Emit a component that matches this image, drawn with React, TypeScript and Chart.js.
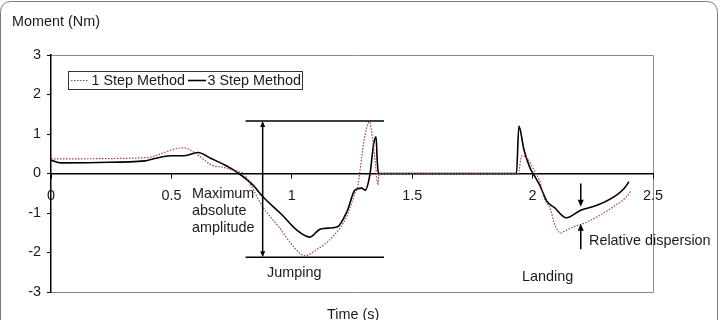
import React, { useEffect, useRef } from "react";
import { Chart, registerables } from "chart.js";

Chart.register(...registerables);

// 3 Step Method (solid black)
const time3 = [0, 0.04, 0.2, 0.39, 0.43, 0.5, 0.55, 0.61, 0.665, 0.72, 0.78, 0.84, 0.88, 0.96, 1.02, 1.075, 1.117, 1.158, 1.19, 1.23, 1.262, 1.29, 1.305, 1.325, 1.34, 1.35, 1.355, 1.36, 1.6, 1.933, 1.943, 1.964, 1.99, 2.01, 2.03, 2.06, 2.09, 2.14, 2.2, 2.27, 2.35, 2.38, 2.4];
const moment3 = [0.34, 0.27, 0.28, 0.32, 0.38, 0.45, 0.45, 0.53, 0.38, 0.22, 0.0, -0.3, -0.59, -1.05, -1.43, -1.61, -1.41, -1.38, -1.35, -0.95, -0.42, -0.37, -0.42, 0.0, 0.75, 0.93, 0.3, 0, 0, 0, 1.2, 0.6, 0.13, -0.08, -0.3, -0.71, -0.86, -1.12, -0.93, -0.8, -0.54, -0.38, -0.21];

// 1 Step Method (dotted red)
const time1 = [0, 0.39, 0.55, 0.61, 0.665, 0.72, 0.775, 0.8, 0.83, 0.88, 0.95, 1.0, 1.054, 1.1, 1.17, 1.228, 1.262, 1.275, 1.29, 1.305, 1.322, 1.335, 1.348, 1.358, 1.362, 1.6, 1.94, 1.955, 1.978, 2.005, 2.033, 2.046, 2.075, 2.09, 2.117, 2.13, 2.17, 2.214, 2.27, 2.35, 2.39, 2.41];
const moment1 = [0.37, 0.4, 0.65, 0.47, 0.22, 0.15, 0.05, 0, -0.3, -0.85, -1.38, -1.8, -2.08, -1.94, -1.6, -1.09, -0.5, -0.29, 0.4, 1.0, 1.31, 0.9, 0.2, -0.29, 0, 0, 0, 0.45, 0.38, 0.1, -0.25, -0.59, -0.92, -1.26, -1.51, -1.47, -1.35, -1.26, -1.09, -0.78, -0.59, -0.42];

const seriesNames = ["1 Step Method", "3 Step Method"];
const xTickValues = [0, 0.5, 1, 1.5, 2, 2.5];
const xTickLabels = ["0", "0.5", "1", "1.5", "2", "2.5"];
const yTickValues = [-3, -2, -1, 0, 1, 2, 3];

const FONT = "'Liberation Sans', Arial, Helvetica, sans-serif";
const RED = "#a3404f";

function arrowHead(ctx: CanvasRenderingContext2D, x: number, y: number, dir: number, w: number, l: number) {
  ctx.beginPath();
  ctx.moveTo(x, y);
  ctx.lineTo(x - w / 2, y - dir * l);
  ctx.lineTo(x + w / 2, y - dir * l);
  ctx.closePath();
  ctx.fill();
}

const annotPlugin = {
  id: "annot",
  beforeDraw(chart: any) {
    const { ctx, chartArea: a } = chart;
    ctx.save();
    ctx.fillStyle = "#fff";
    ctx.fillRect(0, 0, chart.width, chart.height);
    ctx.strokeStyle = "#8a8a8a";
    ctx.lineWidth = 1;
    ctx.beginPath();
    ctx.moveTo(a.left, a.top + 0.5);
    ctx.lineTo(Math.round(a.right) + 0.5, a.top + 0.5);
    ctx.lineTo(Math.round(a.right) + 0.5, Math.round(a.bottom) + 0.5);
    ctx.lineTo(a.left, Math.round(a.bottom) + 0.5);
    ctx.stroke();
    ctx.restore();
  },
  afterDraw(chart: any) {
    const { ctx } = chart;
    const xs = chart.scales.x;
    const ys = chart.scales.y;
    ctx.save();
    // outer frame
    ctx.strokeStyle = "#7a7a7a";
    ctx.lineWidth = 1;
    ctx.beginPath();
    (ctx as any).roundRect(0.5, 1.5, 717, 340, 10);
    ctx.stroke();

    // legend
    ctx.fillStyle = "#fff";
    ctx.fillRect(68.5, 71.5, 234, 18);
    ctx.strokeStyle = "#333";
    ctx.strokeRect(68.5, 71.5, 234, 18);
    ctx.strokeStyle = RED;
    ctx.lineWidth = 1;
    ctx.setLineDash([1.5, 1.5]);
    ctx.beginPath();
    ctx.moveTo(71, 80.5);
    ctx.lineTo(88, 80.5);
    ctx.stroke();
    ctx.setLineDash([]);
    ctx.strokeStyle = "#000";
    ctx.lineWidth = 1.6;
    ctx.beginPath();
    ctx.moveTo(188, 80.5);
    ctx.lineTo(206, 80.5);
    ctx.stroke();
    ctx.fillStyle = "#1a1a1a";
    ctx.font = `14.4px ${FONT}`;
    ctx.textBaseline = "middle";
    ctx.textAlign = "left";
    ctx.fillText(seriesNames[0], 91.5, 81.5);
    ctx.fillText(seriesNames[1], 207.5, 81.5);

    // titles
    ctx.fillText("Moment (Nm)", 12, 22);
    ctx.fillText("Time (s)", 327, 315);

    // texts
    ctx.fillText("Maximum", 192, 194);
    ctx.fillText("absolute", 192, 211);
    ctx.fillText("amplitude", 192, 228);
    ctx.fillText("Jumping", 267, 273);
    ctx.fillText("Landing", 522, 277);
    ctx.fillText("Relative dispersion", 589, 241);

    // amplitude lines
    ctx.strokeStyle = "#000";
    ctx.fillStyle = "#000";
    ctx.lineWidth = 1.5;
    const xa0 = xs.getPixelForValue(0.808);
    const xa1 = xs.getPixelForValue(1.383);
    const yt = ys.getPixelForValue(1.33);
    const yb = ys.getPixelForValue(-2.12);
    ctx.beginPath();
    ctx.moveTo(xa0, yt);
    ctx.lineTo(xa1, yt);
    ctx.moveTo(xa0, yb);
    ctx.lineTo(xa1, yb);
    ctx.stroke();
    const xv = xs.getPixelForValue(0.879);
    ctx.beginPath();
    ctx.moveTo(xv, yt + 5);
    ctx.lineTo(xv, yb - 5);
    ctx.stroke();
    arrowHead(ctx, xv, yt, -1, 5, 6);
    arrowHead(ctx, xv, yb, 1, 5, 6);

    // dispersion arrows
    const xd = xs.getPixelForValue(2.2);
    const d1 = ys.getPixelForValue(-0.25);
    const d2 = ys.getPixelForValue(-0.84);
    const u1 = ys.getPixelForValue(-1.92);
    const u2 = ys.getPixelForValue(-1.27);
    ctx.beginPath();
    ctx.moveTo(xd, d1);
    ctx.lineTo(xd, d2 - 6);
    ctx.moveTo(xd, u1);
    ctx.lineTo(xd, u2 + 6);
    ctx.stroke();
    arrowHead(ctx, xd, d2, 1, 6, 7);
    arrowHead(ctx, xd, u2, -1, 6, 7);
    ctx.restore();
  },
};

export default function App() {
  const ref = useRef<HTMLCanvasElement | null>(null);
  useEffect(() => {
    if (!ref.current) return;
    const chart = new Chart(ref.current, {
      type: "line",
      data: {
        datasets: [
          {
            label: seriesNames[0],
            data: time1.map((t, i) => ({ x: t, y: moment1[i] })),
            borderColor: RED,
            borderWidth: 1.2,
            borderDash: [1.5, 1.5],
            pointRadius: 0,
            cubicInterpolationMode: "monotone",
            fill: false,
          },
          {
            label: seriesNames[1],
            data: time3.map((t, i) => ({ x: t, y: moment3[i] })),
            borderColor: "#000",
            borderWidth: 1.6,
            pointRadius: 0,
            cubicInterpolationMode: "monotone",
            fill: false,
          },
        ],
      },
      options: {
        animation: false,
        responsive: false,
        devicePixelRatio: 1,
        events: [],
        layout: { padding: { left: 0, top: 55, right: 68, bottom: 28 } },
        plugins: { legend: { display: false }, tooltip: { enabled: false }, title: { display: false } },
        scales: {
          x: {
            type: "linear",
            position: { y: 0 } as any,
            min: 0,
            max: 2.5,
            afterBuildTicks: (s: any) => {
              s.ticks = xTickValues.map((v) => ({ value: v }));
            },
            ticks: {
              font: { family: FONT, size: 14.4 },
              color: "#1a1a1a",
              padding: 10,
              maxRotation: 0,
              callback: (_v: any, i: number) => xTickLabels[i],
            },
            grid: { display: true, drawOnChartArea: false, drawTicks: true, tickLength: 4, color: "#000", lineWidth: 1 },
            border: { display: true, color: "#000", width: 1.5 },
          },
          y: {
            type: "linear",
            position: "left",
            min: -3,
            max: 3,
            afterBuildTicks: (s: any) => {
              s.ticks = yTickValues.map((v) => ({ value: v }));
            },
            afterFit: (s: any) => {
              s.width = 51;
            },
            ticks: { font: { family: FONT, size: 14.4 }, color: "#1a1a1a", padding: 6 },
            grid: { display: true, drawOnChartArea: false, drawTicks: true, tickLength: 4, color: "#000", lineWidth: 1 },
            border: { display: true, color: "#000", width: 1.5 },
          },
        },
      },
      plugins: [annotPlugin],
    } as any);
    return () => chart.destroy();
  }, []);
  return (
    <div style={{ position: "absolute", left: 0, top: 0, width: 721, height: 320, overflow: "hidden", background: "#fff" }}>
      <canvas ref={ref} width={721} height={320} style={{ display: "block" }} />
    </div>
  );
}
